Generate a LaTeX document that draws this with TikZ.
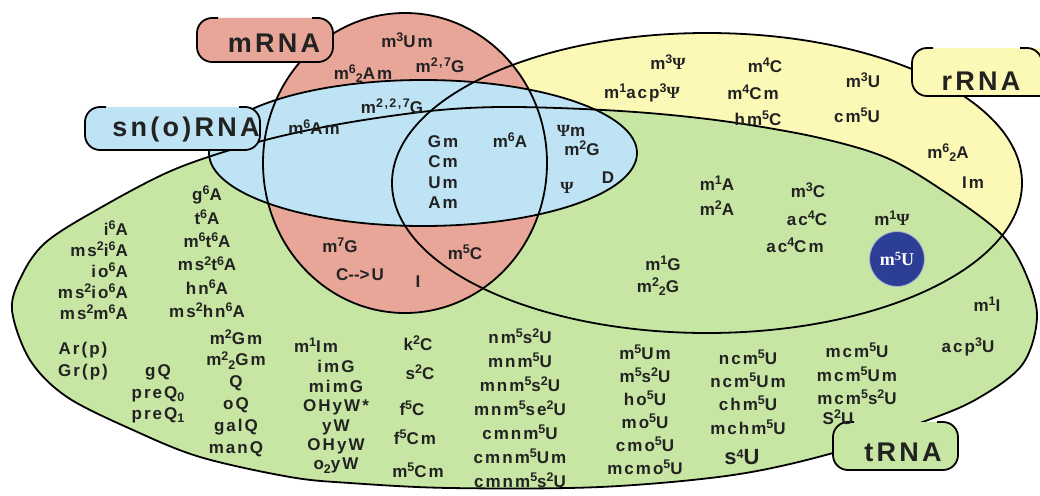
\documentclass[tikz,border=0pt]{standalone}
\usepackage{fontspec}
\setmainfont{Liberation Sans}
\newfontfamily\modsans{Liberation Sans}[LetterSpace=12]
\newfontfamily\psifont{Liberation Serif}
\newfontfamily\serifcerchio{Liberation Serif}[LetterSpace=6]
\usetikzlibrary{positioning}

\definecolor{rosa}{HTML}{E8A698}
\definecolor{azzurro}{HTML}{BEE3F5}
\definecolor{giallo}{HTML}{FCF8B6}
\definecolor{verde}{HTML}{C8E6A3}
\definecolor{bluscuro}{HTML}{2C3E96}
\definecolor{testo}{HTML}{222222}

\newcommand\apice[1]{\raisebox{5.8pt}{\fontsize{12.5}{12}\selectfont #1}}
\newcommand\pedice[1]{\raisebox{-3.2pt}{\fontsize{12.5}{12}\selectfont #1}}
\newcommand\psim{{\psifont\bfseries Ψ}}
\newcommand\modfont{\modsans\bfseries\fontsize{17}{21}\selectfont}
\newcommand\etifont{\modsans\bfseries\fontsize{27}{30}\selectfont}

\begin{document}
\begin{tikzpicture}[x=1pt, y=-1pt, line join=round,
    bordo/.style={draw=black, line width=1.8pt},
    modif/.style={font=\modfont, text=testo, inner sep=0pt},
    colonna/.style={modif, align=center, font=\modsans\bfseries\fontsize{17}{#1}\selectfont},
    etichetta/.style={font=\etifont, text=testo, inner sep=0pt}]
    \useasboundingbox (0,0) rectangle (1040,495);
    \fill[white] (0,0) rectangle (1040,495);

    % Forme degli insiemi
    \path[save path=\pathRRNA] (707,183) ellipse [x radius=315, y radius=150];
    \path[save path=\pathTRNA] plot[smooth cycle, tension=0.55] coordinates {
        (12,310) (22,275) (45,243) (93,212) (173,170) (258,142) (340,124)
        (430,111) (500,107) (583,109) (660,114) (737,123) (820,138) (887,158)
        (945,192) (1000,233) (1025,272) (1037,317) (1022,365) (975,400)
        (920,423) (833,453) (733,475) (600,487) (450,488) (350,483) (290,477)
        (200,457) (133,430) (67,397) (30,360)};
    \path[save path=\pathMRNA] (405,163) ellipse [x radius=142, y radius=150];
    \path[save path=\pathSNO] (423,153) ellipse [x radius=214, y radius=73];

    % Riempimenti: rRNA sotto, poi tRNA, mRNA, sn(o)RNA
    \path[fill=giallo, use path=\pathRRNA];
    \path[fill=verde, use path=\pathTRNA];
    \path[fill=rosa, use path=\pathMRNA];
    \path[fill=azzurro, use path=\pathSNO];

    % Contorni
    \path[bordo, use path=\pathRRNA];
    \path[bordo, use path=\pathTRNA];
    \path[bordo, use path=\pathMRNA];
    \path[bordo, use path=\pathSNO];

    % Etichette
    \fill[rosa, rounded corners=15] (197,18) rectangle (333,62);
    \draw[bordo, rounded corners=15] (218,18) -- (197,18) -- (197,62) -- (333,62) -- (333,18) -- (312,18);
    \node[etichetta] (mRNA) at (274,43) {mRNA};
    \fill[azzurro, rounded corners=15] (85,107) rectangle (260,150);
    \draw[bordo, rounded corners=15] (106,107) -- (85,107) -- (85,150) -- (260,150) -- (260,107) -- (239,107);
    \node[etichetta] (snoRNA) at (186,130) {sn(o)RNA};
    \fill[giallo, rounded corners=15] (912,48) rectangle (1060,96);
    \draw[bordo, rounded corners=15] (933,48) -- (912,48) -- (912,96) -- (1060,96);
    \draw[bordo, rounded corners=15] (1020,48) -- (1042,48) -- (1042,60);
    \node[etichetta] (rRNA) at (981,81) {rRNA};
    \fill[verde, rounded corners=15] (833,422) rectangle (958,470);
    \draw[bordo, rounded corners=15] (854,422) -- (833,422) -- (833,470) -- (958,470) -- (958,422) -- (937,422);
    \node[etichetta] (tRNA) at (903,452) {tRNA};

    % mRNA
    \node[modif] (m3Um) at (407,40) {m\apice{3}Um};
    \node[modif] (m62Am) at (363,74) {m\apice{6}\pedice{2}Am};
    \node[modif] (m27G) at (440,65) {m\apice{2,7}G};
    % sn(o)RNA
    \node[modif] (m6Am) at (314,127) {m\apice{6}Am};
    \node[modif] (m227G) at (392,106) {m\apice{2,2,7}G};
    \node[colonna=20.5] (ribometil) at (443,172) {Gm\\Cm\\Um\\Am};
    \node[modif] (m6A) at (510,140) {m\apice{6}A};
    \node[modif] (psim) at (571,131) {\psim m};
    \node[modif] (m2G) at (582,148) {m\apice{2}G};
    \node[modif] (D) at (608,178) {D};
    \node[modif] (psi) at (567,188) {\psim};
    % mRNA e tRNA
    \node[modif] (m7G) at (340,245) {m\apice{7}G};
    \node[modif] (CU) at (360,275) {C\mbox{-}\mbox{-}>U};
    \node[modif] (inos) at (418,282) {I};
    \node[modif] (m5C) at (465,252) {m\apice{5}C};

    % rRNA
    \node[modif] (m3psi) at (668,62) {m\apice{3}\psim};
    \node[modif] (m1acp3psi) at (642,93) {m\apice{1}acp\apice{3}\psim};
    \node[modif] (m4C) at (765,65) {m\apice{4}C};
    \node[modif] (m4Cm) at (753,92) {m\apice{4}Cm};
    \node[modif] (hm5C) at (758,118) {hm\apice{5}C};
    \node[modif] (m3U) at (863,80) {m\apice{3}U};
    \node[modif] (cm5U) at (857,115) {cm\apice{5}U};
    \node[modif] (m62A) at (948,153) {m\apice{6}\pedice{2}A};
    \node[modif] (Im) at (973,183) {Im};

    % rRNA e tRNA
    \node[modif] (m1A) at (717,183) {m\apice{1}A};
    \node[modif] (m2A) at (717,208) {m\apice{2}A};
    \node[modif] (m3C) at (808,190) {m\apice{3}C};
    \node[modif] (ac4C) at (807,218) {ac\apice{4}C};
    \node[modif] (ac4Cm) at (795,245) {ac\apice{4}Cm};
    \node[modif] (m1psi) at (892,218) {m\apice{1}\psim};
    \node[modif] (m1G) at (663,263) {m\apice{1}G};
    \node[modif] (m22G) at (658,287) {m\apice{2}\pedice{2}G};
    \node[circle, fill=bluscuro, draw=white!60!bluscuro, line width=0.8pt, minimum size=55pt,
        inner sep=0pt, text=white, font=\serifcerchio\bfseries\fontsize{18}{20}\selectfont]
        (m5U) at (897,259) {m\apice{5}U};

    % solo tRNA
    \node[modif] (m1I) at (987,304) {m\apice{1}I};
    \node[modif] (acp3U) at (968,347) {acp\apice{3}U};
    \node[colonna=21, align=right, anchor=east] (i6A) at (128,270)
        {i\apice{6}A\\ms\apice{2}i\apice{6}A\\io\apice{6}A\\ms\apice{2}io\apice{6}A\\ms\apice{2}m\apice{6}A};
    \node[colonna=23.4] (g6A) at (207,252)
        {g\apice{6}A\\t\apice{6}A\\m\apice{6}t\apice{6}A\\ms\apice{2}t\apice{6}A\\hn\apice{6}A\\ms\apice{2}hn\apice{6}A};
    \node[colonna=22] (Arp) at (83,361) {Ar(p)\\Gr(p)};
    \node[colonna=21.5] (gQ) at (158,394) {gQ\\preQ\pedice{0}\\preQ\pedice{1}};
    \node[colonna=21.8] (m2Gm) at (236,393)
        {m\apice{2}Gm\\m\apice{2}\pedice{2}Gm\\Q\\oQ\\galQ\\manQ};
    \node[modif] (m1Im) at (316,345) {m\apice{1}Im};
    \node[colonna=19.4] (imG) at (336,417)
        {imG\\mimG\\OHyW*\\yW\\OHyW\\o\pedice{2}yW};
    \node[modif] (k2C) at (418,343) {k\apice{2}C};
    \node[modif] (s2C) at (420,372) {s\apice{2}C};
    \node[modif] (f5C) at (412,408) {f\apice{5}C};
    \node[modif] (f5Cm) at (415,437) {f\apice{5}Cm};
    \node[modif] (m5Cm) at (418,470) {m\apice{5}Cm};
    \node[colonna=24] (nm5s2U) at (520,408)
        {nm\apice{5}s\apice{2}U\\mnm\apice{5}U\\mnm\apice{5}s\apice{2}U\\mnm\apice{5}se\apice{2}U\\cmnm\apice{5}U\\cmnm\apice{5}Um\\cmnm\apice{5}s\apice{2}U};
    \node[colonna=23] (m5Um) at (645,410)
        {m\apice{5}Um\\m\apice{5}s\apice{2}U\\ho\apice{5}U\\mo\apice{5}U\\cmo\apice{5}U\\mcmo\apice{5}U};
    \node[colonna=23.3] (ncm5U) at (748,392)
        {ncm\apice{5}U\\ncm\apice{5}Um\\chm\apice{5}U\\mchm\apice{5}U};
    \node[modif, font=\modsans\bfseries\fontsize{22}{24}\selectfont] (s4U) at (742,457) {s\apice{4}U};
    \node[colonna=23.5] (mcm5U) at (857,374)
        {mcm\apice{5}U\\mcm\apice{5}Um\\mcm\apice{5}s\apice{2}U};
    \node[modif] (S2U) at (838,417) {S\apice{2}U};
\end{tikzpicture}
\end{document}
